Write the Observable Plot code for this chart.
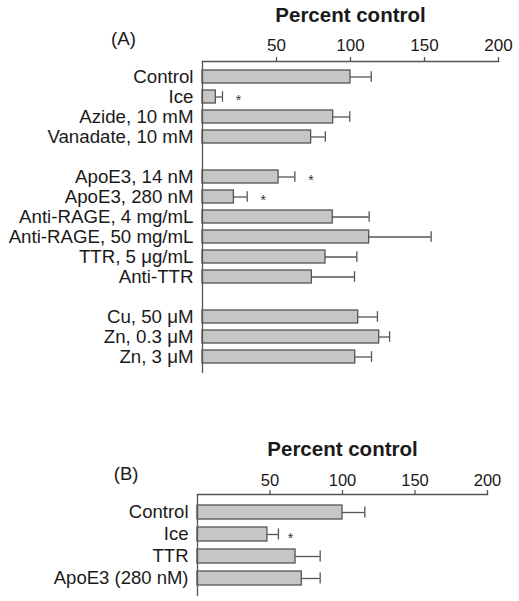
<!DOCTYPE html>
<html>
<head>
<meta charset="utf-8">
<script src="https://cdn.jsdelivr.net/npm/d3@7"></script>
<script src="https://cdn.jsdelivr.net/npm/@observablehq/plot@0.6"></script>
<style>
  html, body { margin: 0; padding: 0; background: #fff; }
  #chart svg { display: block; }
</style>
</head>
<body>
<div id="chart"></div>
<script>
// ---------- Panel A data ----------
const labelsA = [
  "Control", "Ice", "Azide, 10 mM", "Vanadate, 10 mM",
  "ApoE3, 14 nM", "ApoE3, 280 nM", "Anti-RAGE, 4 mg/mL", "Anti-RAGE, 50 mg/mL", "TTR, 5 μg/mL", "Anti-TTR",
  "Cu, 50 μM", "Zn, 0.3 μM", "Zn, 3 μM"
];
const groupSizesA = [4, 6, 3];
const valuesA = [100, 9, 88.3, 73.4, 51.4, 21.2, 88, 112.6, 83.1, 73.9, 105.2, 119.4, 103.2];
const errorsA = [114, 13.5, 99.5, 83, 62.4, 30.2, 112.6, 154.5, 104.3, 102.7, 118.2, 126.4, 114.2];
const starredA = ["Ice", "ApoE3, 14 nM", "ApoE3, 280 nM"];

// ---------- Panel B data ----------
const labelsB = ["Control", "Ice", "TTR", "ApoE3 (280 nM)"];
const valuesB = [100, 48.2, 67.6, 71.9];
const errorsB = [115.4, 55.8, 84.6, 84.6];
const starredB = ["Ice"];

const xTicks = [50, 100, 150, 200];
const titleText = "Percent control";

const FONT = "'Liberation Sans', Arial, Helvetica, sans-serif";
const FILL = "#c6c6c6";
const LINE = "#555";

function buildDomain(labels, sizes) {
  const domain = [];
  let i = 0;
  sizes.forEach((n, g) => {
    if (g > 0) domain.push("gap" + g);
    for (let k = 0; k < n; k++) domain.push(labels[i++]);
  });
  return domain;
}

function panel(opts) {
  const data = opts.labels.map((l, i) => ({label: l, value: opts.values[i], err: opts.errors[i], star: opts.starred.includes(l)}));
  return Plot.plot({
    width: 519,
    height: opts.height,
    marginTop: opts.marginTop,
    marginLeft: opts.marginLeft,
    marginRight: opts.marginRight,
    marginBottom: opts.marginBottom,
    style: {fontFamily: FONT, color: "#1a1a1a", background: "#fff"},
    x: {domain: [0, 200]},
    y: {domain: opts.domain, paddingInner: opts.pi, paddingOuter: opts.po, axis: null},
    marks: [
      Plot.barX(data, {x: "value", y: "label", fill: FILL, stroke: LINE, strokeWidth: 1.3}),
      Plot.ruleY(data, {y: "label", x1: "value", x2: "err", stroke: LINE, strokeWidth: 1.3}),
      Plot.tickX(data, {x: "err", y: "label", insetTop: opts.capInset, insetBottom: opts.capInset, stroke: LINE, strokeWidth: 1.3}),
      Plot.text(data.filter(d => d.star), {x: "err", y: "label", text: () => "*", dx: opts.starDx, dy: 4, fontSize: 14, fill: "#333"}),
      Plot.ruleX([0], {stroke: LINE, strokeWidth: 1.3}),
      Plot.frame({anchor: "top", stroke: LINE, strokeWidth: 1.3}),
      Plot.axisX({anchor: "top", ticks: xTicks, tickSize: 5, tickPadding: opts.tickPad, fontSize: opts.tickFont, label: null, stroke: LINE, strokeWidth: 1.3}),
      Plot.axisY({anchor: "left", tickSize: 0, tickPadding: 9, fontSize: opts.labelFont, label: null,
        tickFormat: d => d.startsWith("gap") ? "" : d}),
      Plot.text([titleText], {frameAnchor: "top", lineAnchor: "bottom", dy: opts.titleDy, fontWeight: "bold", fontSize: opts.titleFont}),
      Plot.text([opts.tag], {frameAnchor: "top-left", textAnchor: "middle", lineAnchor: "middle", dx: opts.tagDx, dy: opts.tagDy, fontSize: opts.labelFont})
    ]
  });
}

const chartA = panel({
  labels: labelsA, values: valuesA, errors: errorsA, starred: starredA,
  domain: buildDomain(labelsA, groupSizesA),
  height: 400, marginTop: 61, marginLeft: 202, marginRight: 21, marginBottom: 27,
  pi: 0.344, po: 0.308, capInset: 1.2, starDx: 16, tickPad: 6, tickFont: 17,
  labelFont: 18.7, titleFont: 20.5, titleDy: -39.3, tag: "(A)", tagDx: -79, tagDy: -22
});

const chartB = panel({
  labels: labelsB, values: valuesB, errors: errorsB, starred: starredB,
  domain: labelsB,
  height: 201, marginTop: 94, marginLeft: 197, marginRight: 32, marginBottom: 5,
  pi: 0.341, po: 0.404, capInset: 1.5, starDx: 12, tickPad: 4, tickFont: 16.5,
  labelFont: 18.5, titleFont: 20.5, titleDy: -39, tag: "(B)", tagDx: -71.3, tagDy: -20
});

document.getElementById("chart").append(chartA, chartB);
</script>
</body>
</html>
